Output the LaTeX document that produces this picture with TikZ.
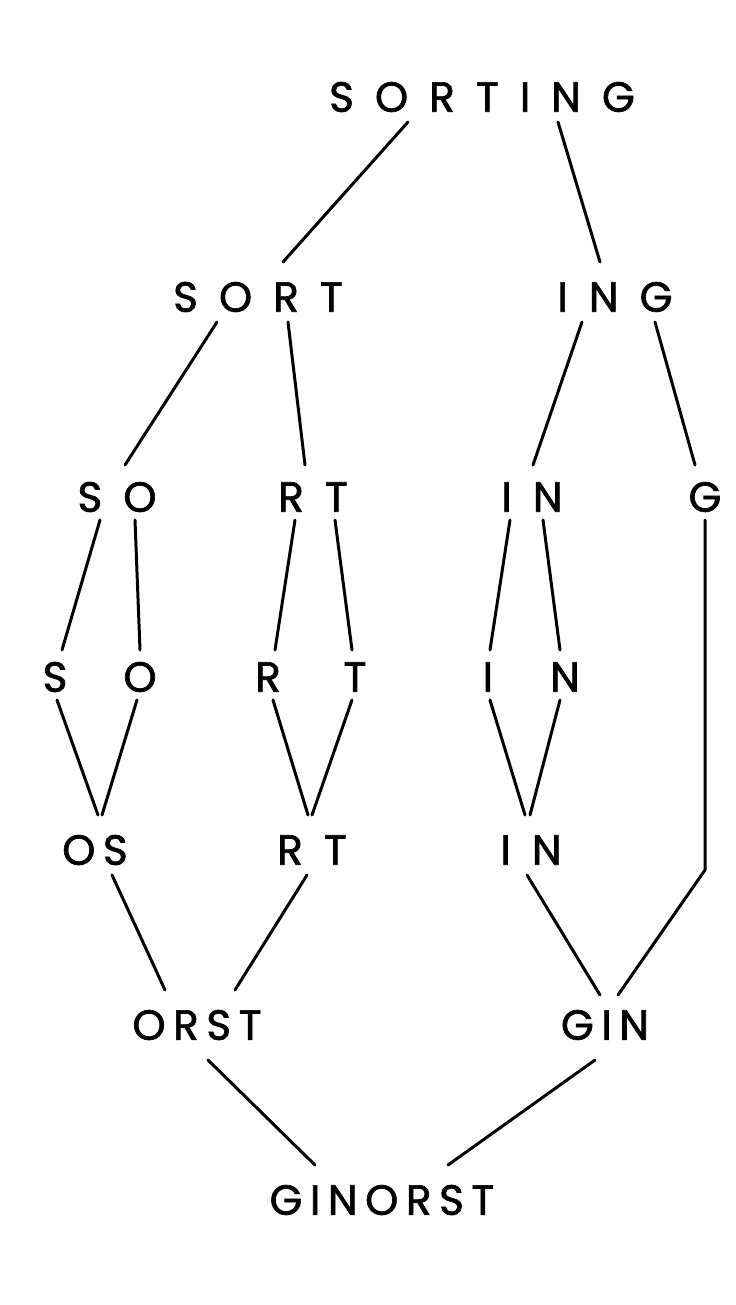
\documentclass[tikz,border=0pt]{standalone}
\usepackage{fontspec}
\setmainfont{Poppins}[FakeBold=1.6]
\usetikzlibrary{calc}
\newcommand{\lgap}{\hspace{0.5em}}
\newcommand{\tgap}{\hspace{0.18em}}

\begin{document}
\begin{tikzpicture}[x=0.02cm,y=-0.02cm,
        word/.style={font=\fontsize{24}{28}\selectfont,inner sep=0pt},
        link/.style={line width=1.7pt,line cap=round,line join=round}]
        \useasboundingbox (0,0) rectangle (735,1305);

        \node [word] (sorting) at (482, 97) {S\lgap O\lgap R\lgap T\lgap I\lgap N\lgap G};
        \node [word] (sort) at (258, 297) {S\lgap O\lgap R\lgap T};
        \node [word] (ing) at (615, 297) {I\lgap N\lgap G};
        \node [word] (so) at (117, 497) {S\lgap O};
        \node [word] (rt1) at (313, 497) {R\lgap T};
        \node [word] (in1) at (532, 497) {I\lgap N};
        \node [word] (g) at (705, 497) {G};
        \node [word] (s) at (55, 677) {S};
        \node [word] (o) at (140, 677) {O};
        \node [word] (r) at (268, 677) {R};
        \node [word] (t) at (355, 677) {T};
        \node [word] (i) at (488, 677) {I};
        \node [word] (n) at (565, 677) {N};
        \node [word] (os) at (95, 850) {O\tgap S};
        \node [word] (rt2) at (312, 850) {R\lgap T};
        \node [word] (in2) at (531, 850) {I\lgap N};
        \node [word] (orst) at (197, 1025) {O\tgap R\tgap S\tgap T};
        \node [word] (gin) at (605, 1025) {G\tgap I\tgap N};
        \node [word] (ginorst) at (382, 1200) {G\tgap I\tgap N\tgap O\tgap R\tgap S\tgap T};

        \draw[link] ($(sorting)+(-74,25)$) -- ($(sort)+(25,-35)$);
        \draw[link] ($(sorting)+(76,25)$) -- ($(ing)+(-15,-35)$);
        \draw[link] ($(sort)+(-41,25)$) -- ($(so)+(8,-32)$);
        \draw[link] ($(sort)+(30,25)$) -- ($(rt1)+(-8,-32)$);
        \draw[link] ($(ing)+(-33,25)$) -- ($(in1)+(1,-32)$);
        \draw[link] ($(ing)+(40,25)$) -- ($(g)+(-10,-32)$);

        \draw[link] ($(so)+(-17,23)$) -- ($(s)+(7,-27)$);
        \draw[link] ($(so)+(18,23)$) -- ($(o)+(0,-27)$);
        \draw[link] ($(rt1)+(-18,23)$) -- ($(r)+(7,-27)$);
        \draw[link] ($(rt1)+(22,23)$) -- ($(t)+(-3,-27)$);
        \draw[link] ($(in1)+(-22,23)$) -- ($(i)+(2,-27)$);
        \draw[link] ($(in1)+(11,23)$) -- ($(n)+(-5,-27)$);

        \draw[link] ($(s)+(2,23)$) -- ($(os)+(3,-35)$);
        \draw[link] ($(o)+(-3,23)$) -- ($(os)+(7,-35)$);
        \draw[link] ($(r)+(5,23)$) -- ($(rt2)+(-4,-35)$);
        \draw[link] ($(t)+(-3,23)$) -- ($(rt2)+(0,-35)$);
        \draw[link] ($(i)+(2,23)$) -- ($(in2)+(-6,-35)$);
        \draw[link] ($(n)+(-5,23)$) -- ($(in2)+(-1,-35)$);

        \draw[link] ($(g)+(0,23)$) -- ($(g)+(0,373)$) -- ($(gin)+(13,-30)$);
        \draw[link] ($(os)+(17,25)$) -- ($(orst)+(-32,-35)$);
        \draw[link] ($(rt2)+(-5,25)$) -- ($(orst)+(38,-35)$);
        \draw[link] ($(in2)+(-4,25)$) -- ($(gin)+(-5,-30)$);
        \draw[link] ($(orst)+(11,35)$) -- ($(ginorst)+(-67,-35)$);
        \draw[link] ($(gin)+(-10,35)$) -- ($(ginorst)+(66,-35)$);
\end{tikzpicture}
\end{document}
